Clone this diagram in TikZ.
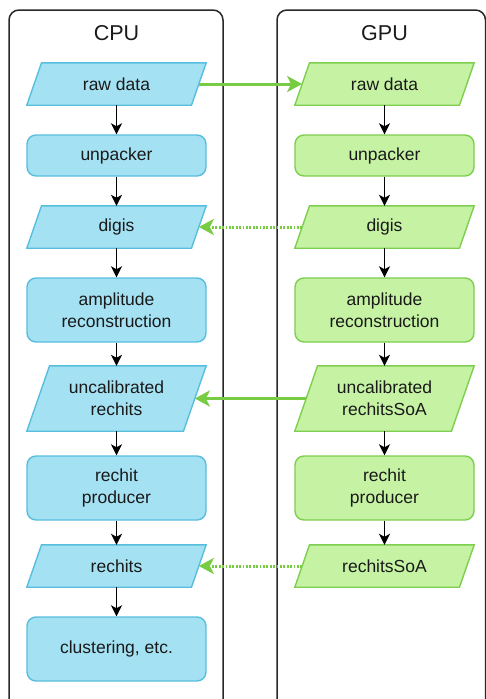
\documentclass[tikz,border=0pt]{standalone}
\usepackage{fontspec}
\setmainfont{Liberation Sans}
\usetikzlibrary{arrows.meta,calc}
\definecolor{bluefill}{RGB}{164,225,243}
\definecolor{bluedraw}{RGB}{88,190,222}
\definecolor{greenfill}{RGB}{198,242,163}
\definecolor{greendraw}{RGB}{126,206,80}
\definecolor{linkgreen}{RGB}{119,204,68}
\definecolor{frame}{RGB}{40,40,40}
\definecolor{txt}{RGB}{26,26,26}
\pgfdeclarelayer{bg}
\pgfsetlayers{bg,main}
\tikzset{
  x=1pt, y=1pt,
  txtstyle/.style={text=txt, font=\fontsize{17.5}{22}\selectfont, align=center},
  paratext/.style={txtstyle, rectangle, inner sep=0pt, minimum width=179pt},
  procbox/.style={txtstyle, rectangle, rounded corners=9pt, inner sep=0pt,
    minimum width=179pt, line width=1.4pt},
  cpubox/.style={procbox, fill=bluefill, draw=bluedraw},
  gpubox/.style={procbox, fill=greenfill, draw=greendraw},
  cpupara/.style={fill=bluefill, draw=bluedraw, line width=1.4pt, line join=miter},
  gpupara/.style={fill=greenfill, draw=greendraw, line width=1.4pt, line join=miter},
  lane/.style={draw=frame, line width=1.5pt, rounded corners=10pt},
  flow/.style={draw=black, line width=1.5pt, -{Stealth[length=11pt,width=11pt,inset=3pt]}},
  copyarrow/.style={draw=linkgreen, line width=3pt,
    -{Stealth[length=15pt,width=16pt,inset=4pt]}},
  viewarrow/.style={copyarrow, dash pattern=on 1.7pt off 1.7pt},
  lanetitle/.style={text=txt, font=\fontsize{21.5}{26}\selectfont},
}
% parallelogram data node: name, centre, height, style, text
\newcommand\drawpara[5]{%
  \node[paratext, minimum height=#3pt] (#1) at #2 {#5};
  \begin{pgfonlayer}{bg}
    \path[#4] ([xshift=0.35*#3pt]#1.north west) -- (#1.north east)
      -- ([xshift=-0.35*#3pt]#1.south east) -- (#1.south west) -- cycle;
  \end{pgfonlayer}
  \coordinate (#1-r) at ([xshift=-0.175*#3pt]#1.east);
  \coordinate (#1-l) at ([xshift=0.175*#3pt]#1.west);
}
\begin{document}
\begin{tikzpicture}
\useasboundingbox (0,0) rectangle (486,-699);

% lanes, open at the bottom
\draw[lane] (9,-705) -- (9,-10) -- (223,-10) -- (223,-705);
\draw[lane] (277,-705) -- (277,-10) -- (485.5,-10) -- (485.5,-705);
\node[lanetitle] (cputitle) at (116.5,-33) {CPU};
\node[lanetitle] (gputitle) at (384.5,-33) {GPU};

% CPU column
\drawpara{craw}{(116.5,-84)}{42}{cpupara}{raw data}
\node[cpubox, minimum height=41pt] (cunp) at (116.5,-155.5) {unpacker};
\drawpara{cdigi}{(116.5,-227)}{42}{cpupara}{digis}
\node[cpubox, minimum height=64pt] (camp) at (116.5,-310) {amplitude\\reconstruction};
\drawpara{cunc}{(116.5,-398.5)}{65}{cpupara}{uncalibrated\\rechits}
\node[cpubox, minimum height=64pt] (cprod) at (116.5,-488) {rechit\\producer};
\drawpara{crh}{(116.5,-566)}{42}{cpupara}{rechits}
\node[cpubox, minimum height=64pt] (cclu) at (116.5,-649) {clustering, etc.};

% GPU column
\drawpara{graw}{(384.5,-84)}{42}{gpupara}{raw data}
\node[gpubox, minimum height=41pt] (gunp) at (384.5,-155.5) {unpacker};
\drawpara{gdigi}{(384.5,-227)}{42}{gpupara}{digis}
\node[gpubox, minimum height=64pt] (gamp) at (384.5,-310) {amplitude\\reconstruction};
\drawpara{gunc}{(384.5,-398.5)}{65}{gpupara}{uncalibrated\\rechitsSoA}
\node[gpubox, minimum height=64pt] (gprod) at (384.5,-488) {rechit\\producer};
\drawpara{grh}{(384.5,-566)}{42}{gpupara}{rechitsSoA}

% processing chain
\foreach \a/\b in {craw/cunp, cunp/cdigi, cdigi/camp, camp/cunc, cunc/cprod,
                   cprod/crh, crh/cclu,
                   graw/gunp, gunp/gdigi, gdigi/gamp, gamp/gunc, gunc/gprod,
                   gprod/grh}
  \draw[flow] (\a.south) -- (\b.north);

% transfers between host and device
\draw[copyarrow] (craw-r) -- (graw-l);
\draw[viewarrow] (gdigi-l) -- (cdigi-r);
\draw[copyarrow] (gunc-l) -- (cunc-r);
\draw[viewarrow] (grh-l) -- (crh-r);
\end{tikzpicture}
\end{document}
